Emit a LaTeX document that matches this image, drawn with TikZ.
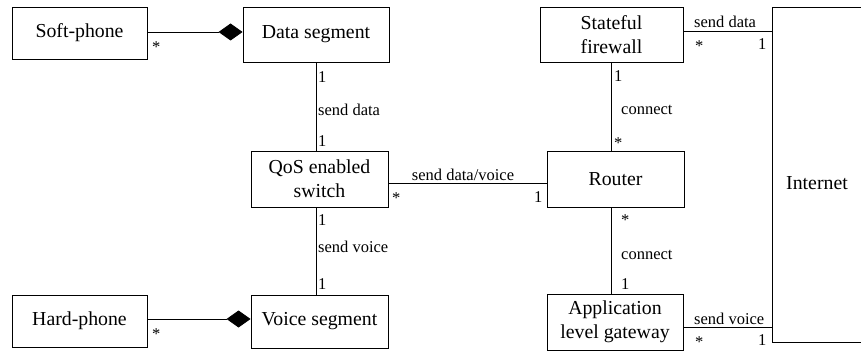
\documentclass[tikz,border=0pt]{standalone}
\usepackage{fontspec}
\setmainfont{Liberation Serif}
\usetikzlibrary{arrows.meta,calc}
\begin{document}
\begin{tikzpicture}[x=1pt,y=-1pt,
  box/.style={draw,line width=0.9pt,rectangle,inner sep=0pt,align=center,
    font=\fontsize{19.8}{24}\selectfont},
  link/.style={line width=0.9pt},
  compose/.style={link,-{Diamond[length=24pt,width=17pt]}},
  lbl/.style={anchor=west,inner sep=0pt,font=\fontsize{16.5}{18}\selectfont}]
\useasboundingbox (0,0) rectangle (861,352);

% classes
\node[box,minimum width=135pt,minimum height=52pt] (soft) at (79.5,33) {Soft-phone};
\node[box,minimum width=146pt,minimum height=55pt] (data) at (316,34.5) {Data segment};
\node[box,minimum width=143pt,minimum height=55pt] (fw) at (611.5,34.5) {Stateful\\firewall};
\node[box,minimum width=137pt,minimum height=56pt] (qos) at (319.5,179) {QoS enabled\\switch};
\node[box,minimum width=137pt,minimum height=56pt] (router) at (615.5,179) {Router};
\node[box,minimum width=135pt,minimum height=52pt] (hard) at (79.5,321) {Hard-phone};
\node[box,minimum width=137pt,minimum height=53pt] (voice) at (319.5,321.5) {Voice segment};
\node[box,minimum width=136pt,minimum height=56pt] (app) at (615,322) {Application\\level gateway};

% the Internet box, open to the right
\coordinate (inetNW) at (772,7);
\coordinate (inetSW) at (772,342);
\node[box,draw=none] (inet) at (817,183) {Internet};
\draw[link] ([xshift=120pt]inetNW) -- (inetNW) -- (inetSW) -- ([xshift=120pt]inetSW);

% compositions
\draw[compose] (soft.east |- 0,32) -- (data.west |- 0,32);
\draw[compose] (hard.east |- 0,319) -- (voice.west |- 0,319);

% associations
\draw[link] (data.south -| 316,0) -- (qos.north -| 316,0);
\draw[link] (qos.south -| 316,0) -- (voice.north -| 316,0);
\draw[link] (qos.east |- 0,183) -- (router.west |- 0,183);
\draw[link] (fw.south -| 611,0) -- (router.north -| 611,0);
\draw[link] (router.south -| 611,0) -- (app.north -| 611,0);
\draw[link] (fw.east |- 0,31) -- (inetNW |- 0,31);
\draw[link] (app.east |- 0,327) -- (inetSW |- 0,327);

% labels and multiplicities
\node[lbl] (m1) at (152,47) {*};
\node[lbl] (m2) at (318,77) {1};
\node[lbl] (a1) at (318,110) {send data};
\node[lbl] (m3) at (318,141) {1};
\node[lbl] (m4) at (318,220) {1};
\node[lbl] (a2) at (318,247) {send voice};
\node[lbl] (m5) at (318,284) {1};
\node[lbl] (m6) at (152,334) {*};
\node[lbl,anchor=center] (a3) at (463,175) {send data/voice};
\node[lbl] (m7) at (392,198) {*};
\node[lbl] (m8) at (534,197) {1};
\node[lbl] (a4) at (694,22) {send data};
\node[lbl] (m9) at (695,46) {*};
\node[lbl] (m10) at (758,44) {1};
\node[lbl] (m11) at (614,76) {1};
\node[lbl] (a5) at (621,110) {connect};
\node[lbl] (m12) at (614,143) {*};
\node[lbl] (m13) at (621,220) {*};
\node[lbl] (a6) at (621,255) {connect};
\node[lbl] (m14) at (621,284) {1};
\node[lbl] (a7) at (694,319) {send voice};
\node[lbl] (m15) at (695,342) {*};
\node[lbl] (m16) at (758,340) {1};
\end{tikzpicture}
\end{document}
